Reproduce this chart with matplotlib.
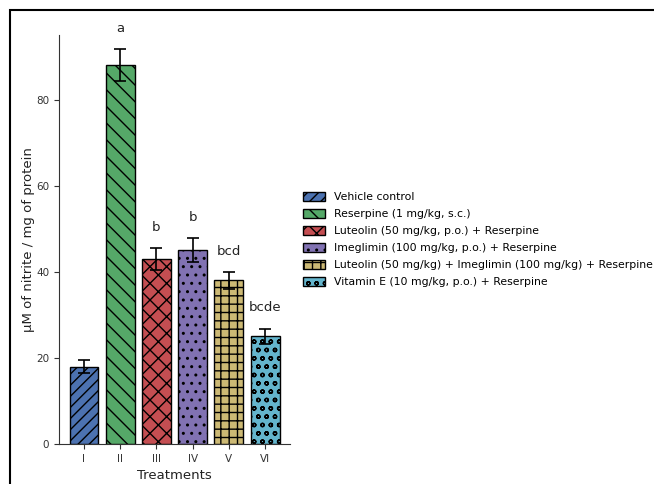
import numpy as np
import matplotlib.pyplot as plt
from matplotlib.patches import Rectangle

groups = ["I", "II", "III", "IV", "V", "VI"]
labels = [
    "Vehicle control",
    "Reserpine (1 mg/kg, s.c.)",
    "Luteolin (50 mg/kg, p.o.) + Reserpine",
    "Imeglimin (100 mg/kg, p.o.) + Reserpine",
    "Luteolin (50 mg/kg) + Imeglimin (100 mg/kg) + Reserpine",
    "Vitamin E (10 mg/kg, p.o.) + Reserpine",
]
means = [18, 88, 43, 45, 38, 25]
errors = [1.6, 3.8, 2.5, 2.8, 2.0, 1.8]
letters = ["", "a", "b", "b", "bcd", "bcde"]

colors = ["#4C72B0", "#55A868", "#C44E52", "#8172B2", "#CCB974", "#64B5CD"]
hatches = ["///", "\\\\", "xx", "..", "++", "oo"]

plt.rcParams["hatch.linewidth"] = 1.0
plt.rcParams["axes.edgecolor"] = "#333333"
plt.rcParams["xtick.color"] = "#333333"
plt.rcParams["ytick.color"] = "#333333"

fig = plt.figure(figsize=(6.54, 4.84), dpi=100)
ax = fig.add_axes([59 / 654, 40 / 484, 231 / 654, 409 / 484])

x = np.arange(len(groups))
bars = ax.bar(x, means, width=0.8, yerr=errors, capsize=4, color=colors,
              edgecolor="black", linewidth=1.0,
              error_kw=dict(elinewidth=1.2, capthick=1.2))
for b, h in zip(bars, hatches):
    b.set_hatch(h)

# significance letters above the error bars
for xi, m, e, t in zip(x, means, errors, letters):
    if t:
        ax.text(xi, m + e + 3.3, t, ha="center", va="bottom", fontsize=9.5, color="#222222")

ax.set_xticks(x)
ax.set_xticklabels(groups, fontsize=7.5)
ax.tick_params(axis="y", labelsize=7.5)
ax.set_ylim(0, 95)
ax.set_yticks([0, 20, 40, 60, 80])
ax.set_xlabel("Treatments", fontsize=9.5, color="#222222")
ax.set_ylabel("µM of nitrite / mg of protein", fontsize=9.5, color="#222222", labelpad=1)
ax.spines["top"].set_visible(False)
ax.spines["right"].set_visible(False)

ax.legend(bars, labels, loc="center left", bbox_to_anchor=(1.015, 0.5),
          frameon=False, fontsize=7.8, handlelength=2.0, handleheight=0.9,
          labelspacing=0.62)

fig.patches.append(Rectangle((10 / 654, -0.1), 1.2, (474 / 484) + 0.1,
                             transform=fig.transFigure, fill=False,
                             edgecolor="black", linewidth=1.5))

fig.savefig("out.png", dpi=100)
